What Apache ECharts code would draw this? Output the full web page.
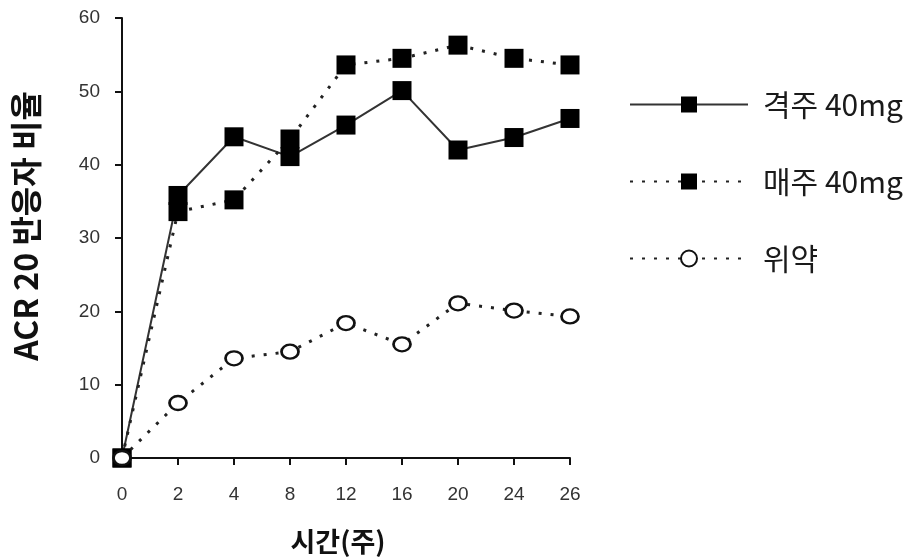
<!DOCTYPE html>
<html>
<head>
<meta charset="utf-8">
<script src="https://cdn.jsdelivr.net/npm/echarts@6/dist/echarts.min.js"></script>
<style>
html,body{margin:0;padding:0;background:#fff;}
#chart{width:920px;height:560px;}
</style>
</head>
<body>
<div id="chart"></div>
<script>
const weeks = ['0', '2', '4', '8', '12', '16', '20', '24', '26'];
const seriesNames = ['격주 40mg', '매주 40mg', '위약'];
const biweekly = [0, 35.8, 43.8, 41.1, 45.4, 50.1, 42.0, 43.7, 46.3];
const weekly = [0, 33.6, 35.2, 43.5, 53.6, 54.5, 56.3, 54.5, 53.6];
const placebo = [0, 7.5, 13.6, 14.5, 18.4, 15.5, 21.1, 20.1, 19.3];
const yTicks = { min: 0, max: 60, interval: 10 };

const chart = echarts.init(document.getElementById('chart'));
const font = 'Liberation Sans, Arial, "Noto Sans CJK KR", sans-serif';
const kfont = '"Noto Sans CJK KR", sans-serif';
const dotted = [3, 9];

chart.setOption({
  animation: false,
  backgroundColor: '#fff',
  textStyle: { fontFamily: font },
  grid: { left: 122, right: 350, top: 18, bottom: 102 },
  legend: {
    orient: 'vertical',
    left: 624,
    top: 84,
    itemWidth: 118,
    itemHeight: 20,
    itemGap: 46,
    textStyle: { fontSize: 30, lineHeight: 31, color: '#1a1a1a', fontFamily: kfont, padding: [0, 0, 0, 10] },
    data: seriesNames
  },
  xAxis: {
    type: 'category',
    data: weeks,
    boundaryGap: false,
    name: '시간(주)',
    nameLocation: 'middle',
    nameGap: 70,
    nameTextStyle: { fontSize: 27, fontWeight: 'bold', color: '#111', fontFamily: kfont, padding: [0, 16, 0, 0] },
    axisLine: { lineStyle: { color: '#111', width: 2 } },
    axisTick: { show: true, inside: false, length: 7, alignWithLabel: true, lineStyle: { color: '#111', width: 2 } },
    axisLabel: { fontSize: 19, color: '#333', margin: 27 }
  },
  yAxis: {
    type: 'value',
    min: yTicks.min,
    max: yTicks.max,
    interval: yTicks.interval,
    name: 'ACR 20 반응자 비율',
    nameLocation: 'middle',
    nameGap: 80,
    nameTextStyle: { fontSize: 32, fontWeight: 'bold', color: '#111', fontFamily: kfont, padding: [0, 0, 0, 24] },
    splitLine: { show: false },
    axisLine: { show: true, lineStyle: { color: '#111', width: 2 } },
    axisTick: { show: true, inside: false, length: 7, lineStyle: { color: '#111', width: 2 } },
    axisLabel: { fontSize: 19, color: '#333', margin: 22 }
  },
  series: [
    {
      name: seriesNames[0],
      type: 'line',
      data: biweekly,
      symbol: 'rect',
      symbolSize: 19,
      itemStyle: { color: '#000' },
      lineStyle: { color: '#333', width: 2, type: 'solid' },
      z: 3
    },
    {
      name: seriesNames[1],
      type: 'line',
      data: weekly,
      symbol: 'rect',
      symbolSize: 19,
      itemStyle: { color: '#000' },
      lineStyle: { color: '#222', width: 3, type: dotted },
      z: 4
    },
    {
      name: seriesNames[2],
      type: 'line',
      data: placebo,
      symbol: 'circle',
      symbolSize: [17, 14],
      itemStyle: { color: '#fff', borderColor: '#111', borderWidth: 2.5 },
      lineStyle: { color: '#222', width: 3, type: dotted },
      z: 5
    }
  ]
});
</script>
</body>
</html>
